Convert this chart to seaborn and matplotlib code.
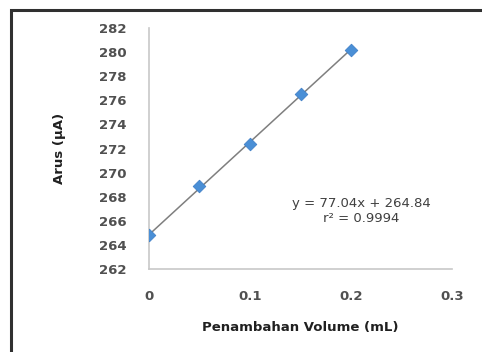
import numpy as np
import pandas as pd
import seaborn as sns
import matplotlib.pyplot as plt
from matplotlib.patches import Rectangle

volume = [0, 0.05, 0.1, 0.15, 0.2]
arus = [264.8, 268.9, 272.4, 276.5, 280.2]
slope, intercept, r2 = 77.04, 264.84, 0.9994
y_ticks = [262, 264, 266, 268, 270, 272, 274, 276, 278, 280, 282]
x_ticks = [0, 0.1, 0.2, 0.3]

df = pd.DataFrame({"volume": volume, "arus": arus})
df["fit"] = intercept + slope * df["volume"]

sns.set_style("white")
plt.rcParams["font.family"] = ["DejaVu Sans"]

fig = plt.figure(figsize=(4.82, 3.52), dpi=100)
ax = fig.add_axes([0.309, 0.236, 0.629, 0.684])

sns.lineplot(data=df, x="volume", y="fit", ax=ax, color="#7f7f7f", linewidth=1.1)
sns.scatterplot(data=df, x="volume", y="arus", ax=ax, marker="D", s=42,
                color="#4a8fd6", edgecolor="#3b7cc4", linewidth=0.5, zorder=3)

ax.set_xlim(0, 0.3)
ax.set_ylim(262, 282)
ax.set_yticks(y_ticks)
ax.set_xticks(x_ticks)
ax.set_xticklabels(["0", "0.1", "0.2", "0.3"])
ax.tick_params(axis="both", length=0, labelsize=9.5, colors="#505050")
ax.tick_params(axis="y", pad=16)
ax.tick_params(axis="x", pad=15)
for lab in ax.get_xticklabels() + ax.get_yticklabels():
    lab.set_fontweight("bold")

sns.despine(ax=ax)
for side in ["left", "bottom"]:
    ax.spines[side].set_color("#c8c8c8")
    ax.spines[side].set_linewidth(1.2)

ax.set_xlabel("Penambahan Volume (mL)", fontsize=9.5, fontweight="bold",
              color="#202020", labelpad=13)
ax.set_ylabel("Arus (µA)", fontsize=9.5, fontweight="bold", color="#202020",
              labelpad=24)

ax.text(0.70, 0.24, f"y = {slope}x + {intercept}\nr² = {r2}", transform=ax.transAxes,
        ha="center", va="center", fontsize=9.5, color="#404040", linespacing=1.15)

fig.patches.append(Rectangle((0.022, -0.05), 1.05, 1.022, transform=fig.transFigure,
                             fill=False, edgecolor="#303030", linewidth=2.2))

fig.savefig("out.png", dpi=100)
